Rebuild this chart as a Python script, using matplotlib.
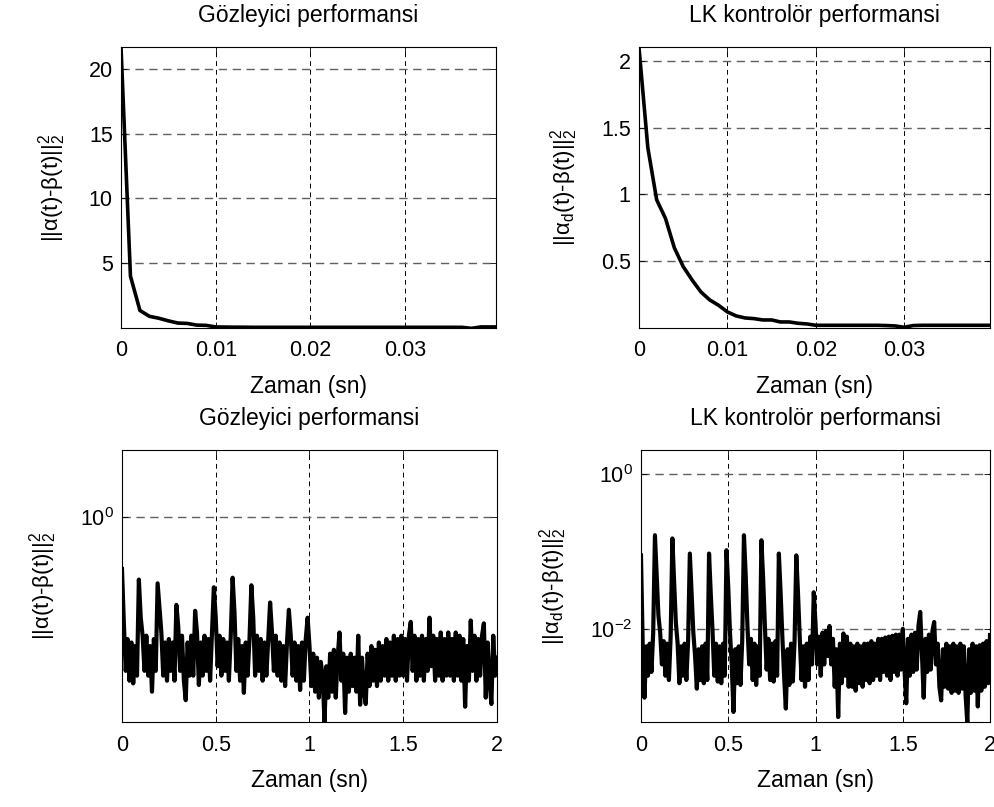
import numpy as np
import matplotlib
matplotlib.use("Agg")
from matplotlib import pyplot as plt
from matplotlib.ticker import NullLocator

plt.rcParams['font.family'] = ['Liberation Sans', 'DejaVu Sans']
plt.rcParams['mathtext.fontset'] = 'custom'
plt.rcParams['mathtext.rm'] = 'Liberation Sans'
plt.rcParams['mathtext.it'] = 'Liberation Sans'
plt.rcParams['mathtext.bf'] = 'Liberation Sans:bold'

# first 40 ms, 1 ms steps
obs_err_start = [21.7, 4.0, 1.35, 0.9, 0.75, 0.55, 0.38, 0.35, 0.22, 0.2,
                 0.08, 0.07, 0.06, 0.06, 0.05, 0.05, 0.05, 0.05, 0.05, 0.05,
                 0.05, 0.05, 0.05, 0.05, 0.05, 0.05, 0.05, 0.05, 0.05, 0.05,
                 0.05, 0.05, 0.05, 0.05, 0.05, 0.05, 0.05, -0.03, 0.08, 0.08,
                 0.08]
ctrl_err_start = [2.1, 1.35, 0.96, 0.82, 0.6, 0.46, 0.36, 0.27, 0.21, 0.17,
                  0.12, 0.09, 0.075, 0.07, 0.06, 0.06, 0.045, 0.045, 0.035, 0.03,
                  0.02, 0.02, 0.02, 0.02, 0.02, 0.02, 0.02, 0.02, 0.018, 0.015,
                  0.005, 0.018, 0.02, 0.02, 0.02, 0.02, 0.02, 0.02, 0.02, 0.02,
                  0.02]

# whole run, 10 ms steps
obs_err_full = [0.59, 0.34, 0.21, 0.29, 0.19, 0.28, 0.185, 0.27, 0.20, 0.53,
                0.36, 0.30, 0.21, 0.30, 0.20, 0.27, 0.17, 0.29, 0.21, 0.51,
                0.40, 0.31, 0.20, 0.28, 0.19, 0.29, 0.21, 0.28, 0.19, 0.41,
                0.33, 0.21, 0.30, 0.19, 0.156, 0.28, 0.20, 0.30, 0.20, 0.386,
                0.31, 0.182, 0.28, 0.20, 0.30, 0.21, 0.29, 0.19, 0.31, 0.49,
                0.36, 0.22, 0.30, 0.20, 0.29, 0.21, 0.28, 0.19, 0.30, 0.54,
                0.38, 0.21, 0.29, 0.19, 0.27, 0.168, 0.28, 0.20, 0.29, 0.50,
                0.36, 0.20, 0.30, 0.21, 0.29, 0.19, 0.28, 0.20, 0.29, 0.42,
                0.31, 0.21, 0.30, 0.20, 0.28, 0.19, 0.27, 0.18, 0.28, 0.39,
                0.30, 0.20, 0.28, 0.19, 0.27, 0.173, 0.28, 0.19, 0.29, 0.36,
                0.27, 0.18, 0.25, 0.17, 0.24, 0.16, 0.23, 0.20, 0.125, 0.22,
                0.16, 0.25, 0.17, 0.26, 0.16, 0.24, 0.31, 0.19, 0.25, 0.137,
                0.24, 0.17, 0.25, 0.18, 0.24, 0.17, 0.30, 0.149, 0.24, 0.17,
                0.15, 0.25, 0.18, 0.27, 0.19, 0.26, 0.18, 0.28, 0.19, 0.27,
                0.20, 0.29, 0.19, 0.28, 0.20, 0.30, 0.19, 0.29, 0.20, 0.30,
                0.20, 0.29, 0.19, 0.30, 0.345, 0.21, 0.30, 0.19, 0.29, 0.20,
                0.30, 0.19, 0.29, 0.21, 0.36, 0.22, 0.30, 0.19, 0.29, 0.20,
                0.31, 0.19, 0.29, 0.20, 0.31, 0.20, 0.29, 0.19, 0.31, 0.20,
                0.30, 0.19, 0.29, 0.146, 0.27, 0.19, 0.35, 0.21, 0.30, 0.19,
                0.29, 0.20, 0.30, 0.34, 0.16, 0.28, 0.19, 0.15, 0.30, 0.20,
                0.24]
ctrl_err_full = [0.09, 0.006, 0.0013, 0.006, 0.0025, 0.0065, 0.0028, 0.009, 0.164, 0.05,
                 0.015, 0.009, 0.0035, 0.007, 0.0025, 0.0065, 0.0022, 0.008, 0.149, 0.04,
                 0.012, 0.0065, 0.002, 0.006, 0.0025, 0.0065, 0.0022, 0.007, 0.095, 0.03,
                 0.009, 0.0045, 0.0017, 0.0055, 0.0022, 0.006, 0.002, 0.0065, 0.0022, 0.095,
                 0.028, 0.0095, 0.0025, 0.0065, 0.0021, 0.006, 0.002, 0.0065, 0.0025, 0.105,
                 0.035, 0.009, 0.0035, 0.00085, 0.0055, 0.002, 0.006, 0.0019, 0.007, 0.164,
                 0.05, 0.011, 0.0035, 0.0075, 0.0022, 0.0065, 0.0019, 0.006, 0.0025, 0.141,
                 0.045, 0.011, 0.003, 0.0075, 0.0022, 0.0065, 0.0021, 0.007, 0.0025, 0.095,
                 0.03, 0.008, 0.0025, 0.00094, 0.0055, 0.0019, 0.0065, 0.0021, 0.007, 0.09,
                 0.028, 0.0075, 0.0022, 0.006, 0.0018, 0.0065, 0.0022, 0.008, 0.0035, 0.030,
                 0.012, 0.0035, 0.008, 0.0025, 0.009, 0.0035, 0.0095, 0.0045, 0.011, 0.0035,
                 0.0075, 0.0018, 0.0055, 0.00073, 0.0065, 0.002, 0.0088, 0.0025, 0.008, 0.0018,
                 0.0065, 0.0018, 0.006, 0.0016, 0.0065, 0.002, 0.006, 0.0018, 0.0065, 0.0022,
                 0.0065, 0.002, 0.007, 0.0022, 0.0065, 0.0025, 0.0075, 0.0022, 0.0075, 0.0028,
                 0.0078, 0.0025, 0.008, 0.0022, 0.0082, 0.0028, 0.0085, 0.0025, 0.0085, 0.003,
                 0.0101, 0.003, 0.0011, 0.0075, 0.0025, 0.0085, 0.0028, 0.009, 0.003, 0.011,
                 0.0167, 0.0045, 0.0013, 0.0075, 0.0028, 0.0085, 0.003, 0.0095, 0.0124, 0.0035,
                 0.0065, 0.0018, 0.0012, 0.0055, 0.0018, 0.0065, 0.0017, 0.006, 0.0015, 0.0065,
                 0.0016, 0.006, 0.0015, 0.0065, 0.0017, 0.006, 0.0014, 0.0006, 0.0055, 0.0015,
                 0.0065, 0.0016, 0.006, 0.001, 0.0062, 0.0016, 0.0065, 0.0018, 0.007, 0.002,
                 0.0084]

t_start = np.linspace(0, 0.04, len(obs_err_start))
t_full = np.linspace(0, 2, len(obs_err_full))

titles = ['Gözleyici performansi', 'LK kontrolör performansi']
xlabel = 'Zaman (sn)'
ylabel_obs = r'||α(t)-β(t)||$_2^2$'
ylabel_ctrl = r'||α$_d$(t)-β(t)||$_2^2$'

fig = plt.figure(figsize=(9.95, 8.07), dpi=100)
ax1 = fig.add_axes([0.1216, 0.5936, 0.3769, 0.3482])
ax2 = fig.add_axes([0.6422, 0.5936, 0.3528, 0.3482])
ax3 = fig.add_axes([0.1226, 0.1053, 0.3769, 0.3370])
ax4 = fig.add_axes([0.6442, 0.1053, 0.3508, 0.3370])


def style(ax, title, ylab):
    ax.set_title(title, fontsize=16.5, pad=18)
    ax.set_xlabel(xlabel, fontsize=16.5, labelpad=10)
    ax.set_ylabel(ylab, fontsize=16, labelpad=15)
    ax.tick_params(direction='in', length=4, width=0.6, top=True, right=True,
                   labelsize=15.5)
    ax.tick_params(axis='x', pad=9)
    ax.tick_params(axis='y', pad=6)
    ax.xaxis.grid(True, color='black', linestyle=(0, (5, 4)), linewidth=0.7)
    ax.yaxis.grid(True, color='#606060', linestyle=(0, (6, 4)), linewidth=1.0)
    for s in ax.spines.values():
        s.set_linewidth(0.8)


ax1.plot(t_start, obs_err_start, color='black', linewidth=2.6)
ax1.set_xlim(0, 0.0396)
ax1.set_ylim(0, 21.7)
ax1.set_xticks([0, 0.01, 0.02, 0.03])
ax1.set_xticklabels(['0', '0.01', '0.02', '0.03'])
ax1.set_yticks([5, 10, 15, 20])
ax1.set_yticklabels(['5', '10', '15', '20'])
style(ax1, titles[0], ylabel_obs)

ax2.plot(t_start, ctrl_err_start, color='black', linewidth=2.6)
ax2.set_xlim(0, 0.0397)
ax2.set_ylim(0, 2.105)
ax2.set_xticks([0, 0.01, 0.02, 0.03])
ax2.set_xticklabels(['0', '0.01', '0.02', '0.03'])
ax2.set_yticks([0.5, 1, 1.5, 2])
ax2.set_yticklabels(['0.5', '1', '1.5', '2'])
style(ax2, titles[1], ylabel_ctrl)

ax3.semilogy(t_full, obs_err_full, color='black', linewidth=3.0)
ax3.set_xlim(0, 2)
ax3.set_ylim(0.125, 1.97)
ax3.set_xticks([0, 0.5, 1, 1.5, 2])
ax3.set_xticklabels(['0', '0.5', '1', '1.5', '2'])
ax3.set_yticks([1])
ax3.yaxis.set_minor_locator(NullLocator())
style(ax3, titles[0], ylabel_obs)

ax4.semilogy(t_full, ctrl_err_full, color='black', linewidth=3.0)
ax4.set_xlim(0, 2)
ax4.set_ylim(6.3e-4, 2.07)
ax4.set_xticks([0, 0.5, 1, 1.5, 2])
ax4.set_xticklabels(['0', '0.5', '1', '1.5', '2'])
ax4.set_yticks([1e-2, 1])
ax4.yaxis.set_minor_locator(NullLocator())
style(ax4, titles[1], ylabel_ctrl)

fig.savefig('out.png', dpi=100)
